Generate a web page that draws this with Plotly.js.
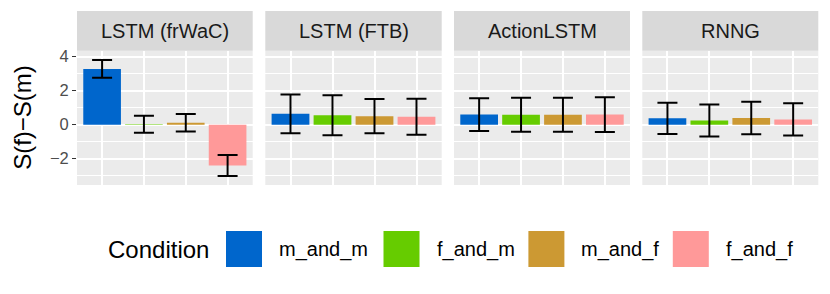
<!DOCTYPE html>
<html>
<head>
<meta charset="utf-8">
<script src="https://cdn.plot.ly/plotly-3.0.1.min.js"></script>
<style>html,body{margin:0;padding:0;background:#fff}#chart{width:830px;height:294px}</style>
</head>
<body>
<div id="chart"></div>
<script>
// ---- data ----
const models = ['LSTM (frWaC)', 'LSTM (FTB)', 'ActionLSTM', 'RNNG'];
const conditions = ['m_and_m', 'f_and_m', 'm_and_f', 'f_and_f'];
const conditionColors = ['#0066CC', '#66CC00', '#CC9933', '#FF9999'];
const meanFrWaC = [3.28, 0.02, 0.11, -2.40];
const errFrWaC  = [0.52, 0.50, 0.52, 0.62];
const meanFTB = [0.64, 0.55, 0.50, 0.47];
const errFTB  = [1.14, 1.18, 1.01, 1.06];
const meanAction = [0.59, 0.58, 0.58, 0.59];
const errAction  = [0.97, 1.00, 1.00, 1.02];
const meanRNNG = [0.37, 0.25, 0.39, 0.31];
const errRNNG  = [0.92, 0.94, 0.96, 0.95];
const yTicks = [-2, 0, 2, 4];
const yTickLabels = ['\u22122', '0', '2', '4'];
const yTitle = 'S(f)\u2212S(m)';
const legendTitle = 'Condition';

const means = [meanFrWaC, meanFTB, meanAction, meanRNNG];
const errs = [errFrWaC, errFTB, errAction, errRNNG];

// ---- layout geometry (pixels) ----
const W = 830, H = 294;
const panelX = [[77, 252.7], [265.3, 441.7], [454, 630], [642.3, 818.3]];
const panelTop = 50.7, panelBottom = 185, stripTop = 11;
const px = v => v / W;
const py = v => 1 - v / H;

const traces = [];
const layout = {
  width: W, height: H,
  margin: {l: 0, r: 0, t: 0, b: 0},
  paper_bgcolor: '#ffffff',
  plot_bgcolor: '#EBEBEB',
  showlegend: false,
  bargap: 0.1,
  font: {family: 'Liberation Sans, Arial, sans-serif', color: '#000000'},
  shapes: [],
  annotations: []
};

models.forEach((m, i) => {
  const xa = i === 0 ? 'x' : 'x' + (i + 1);
  const ya = i === 0 ? 'y' : 'y' + (i + 1);
  traces.push({
    type: 'bar',
    x: conditions,
    y: means[i],
    xaxis: xa, yaxis: ya,
    marker: {color: conditionColors, line: {width: 0}},
    error_y: {type: 'data', array: errs[i], visible: true, color: '#000000', thickness: 2, width: 10},
    hoverinfo: 'x+y'
  });
  const xkey = i === 0 ? 'xaxis' : 'xaxis' + (i + 1);
  const ykey = i === 0 ? 'yaxis' : 'yaxis' + (i + 1);
  layout[xkey] = {
    domain: [px(panelX[i][0]), px(panelX[i][1])],
    anchor: ya,
    type: 'category',
    categoryorder: 'array', categoryarray: conditions,
    range: [-0.6, 3.6],
    showgrid: true, gridcolor: '#FFFFFF', gridwidth: 2,
    showticklabels: false, ticks: '', zeroline: false, showline: false,
    fixedrange: true
  };
  layout[ykey] = {
    domain: [py(panelBottom), py(panelTop)],
    anchor: xa,
    range: [-3.55, 4.35],
    tickvals: yTicks, ticktext: yTickLabels,
    showticklabels: i === 0,
    ticks: i === 0 ? 'outside' : '',
    ticklen: 4, tickwidth: 1.5, tickcolor: '#333333',
    tickfont: {size: 16.5, color: '#4D4D4D', family: 'Liberation Sans, Arial, sans-serif'},
    showgrid: true, gridcolor: '#FFFFFF', gridwidth: 2,
    minor: {dtick: 1, showgrid: true, gridcolor: '#FFFFFF', gridwidth: 1, ticks: ''},
    zeroline: false, showline: false,
    fixedrange: true
  };
  // strip
  layout.shapes.push({
    type: 'rect', xref: 'paper', yref: 'paper',
    x0: px(panelX[i][0]), x1: px(panelX[i][1]),
    y0: py(panelTop), y1: py(stripTop),
    fillcolor: '#D9D9D9', line: {width: 0}, layer: 'below'
  });
  layout.annotations.push({
    xref: 'paper', yref: 'paper',
    x: px((panelX[i][0] + panelX[i][1]) / 2), y: py((stripTop + panelTop) / 2),
    xanchor: 'center', yanchor: 'middle',
    text: m, showarrow: false,
    font: {size: 20, color: '#1A1A1A'}
  });
});

// y axis title
layout.annotations.push({
  xref: 'paper', yref: 'paper',
  x: px(23), y: py((panelTop + panelBottom) / 2),
  xanchor: 'center', yanchor: 'middle',
  text: yTitle, textangle: -90, showarrow: false,
  font: {size: 24, color: '#000000'}
});

// legend (drawn manually to get ggplot-sized keys)
const legendY = 249;
const keyX = [226, 383.5, 528.4, 672.8];
const keySize = 36;
layout.annotations.push({
  xref: 'paper', yref: 'paper',
  x: px(106), y: py(legendY), xanchor: 'left', yanchor: 'middle',
  text: legendTitle, showarrow: false,
  font: {size: 24, color: '#000000'}
});
conditions.forEach((c, j) => {
  layout.shapes.push({
    type: 'rect', xref: 'paper', yref: 'paper',
    x0: px(keyX[j]), x1: px(keyX[j] + keySize),
    y0: py(legendY + keySize / 2), y1: py(legendY - keySize / 2),
    fillcolor: conditionColors[j], line: {width: 0}
  });
  layout.annotations.push({
    xref: 'paper', yref: 'paper',
    x: px(keyX[j] + keySize + 15), y: py(legendY), xanchor: 'left', yanchor: 'middle',
    text: c, showarrow: false,
    font: {size: 20, color: '#000000'}
  });
});

Plotly.newPlot('chart', traces, layout, {displayModeBar: false, staticPlot: true});
</script>
</body>
</html>
